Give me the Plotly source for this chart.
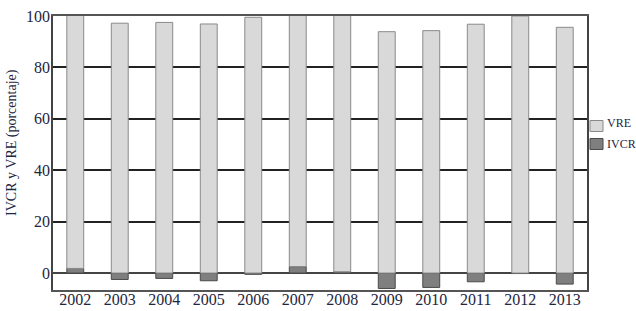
import plotly.graph_objects as go

years = ["2002", "2003", "2004", "2005", "2006", "2007", "2008", "2009", "2010", "2011", "2012", "2013"]
vre = [98.5, 97.2, 97.5, 96.9, 99.5, 97.8, 99.8, 93.9, 94.3, 96.8, 100.0, 95.6]
ivcr = [1.8, -2.5, -2.1, -3.0, -0.5, 2.5, 0.5, -6.0, -5.6, -3.4, -0.2, -4.3]
y_ticks = [0, 20, 40, 60, 80, 100]
series_names = ["VRE", "IVCR"]
series_fill = ["#d9d9d9", "#7f7f7f"]
series_edge = ["#8a8a8a", "#4a4a4a"]
y_title = "IVCR y VRE (porcentaje)"

serif = "Liberation Serif, DejaVu Serif, serif"
txt = "#1e2640"

fig = go.Figure()
fig.add_trace(go.Bar(x=years, y=ivcr, name=series_names[1], width=0.38, showlegend=False,
                     marker=dict(color=series_fill[1], line=dict(color=series_edge[1], width=1))))
fig.add_trace(go.Bar(x=years, y=vre, name=series_names[0], width=0.38, showlegend=False,
                     marker=dict(color=series_fill[0], line=dict(color=series_edge[0], width=1))))

# manual legend (swatch + label), placed just right of the plot area
leg_rows = [(0.5785, 0.6186, 0.608), (0.5128, 0.5529, 0.533)]
for i, (y0, y1, yt) in enumerate(leg_rows):
    fig.add_shape(type="rect", xref="paper", yref="paper", x0=1.0056, x1=1.030, y0=y0, y1=y1,
                  fillcolor=series_fill[i], line=dict(color=series_edge[i], width=1))
    fig.add_annotation(xref="paper", yref="paper", x=1.034, y=yt, text=series_names[i],
                       showarrow=False, xanchor="left", yanchor="middle",
                       font=dict(size=12, color=txt, family=serif))

# y-axis title
fig.add_annotation(xref="paper", yref="paper", x=-0.077, y=0.54, text=y_title, textangle=-90,
                   showarrow=False, xanchor="center", yanchor="middle",
                   font=dict(size=14, color=txt, family=serif))

fig.update_layout(
    width=636, height=311,
    margin=dict(l=53, r=49, t=16, b=21, autoexpand=False),
    barmode="relative",
    plot_bgcolor="white", paper_bgcolor="white",
    font=dict(family=serif, color=txt),
    showlegend=False,
)
fig.update_xaxes(showline=True, linecolor="#555", linewidth=1.5, mirror=True, automargin=False,
                 showgrid=False, ticks="", tickfont=dict(size=16, color=txt), ticklabelstandoff=-6)
fig.update_yaxes(range=[-6.6, 100], tickvals=y_ticks, showgrid=True, gridcolor="#222",
                 gridwidth=1.5, zeroline=True, zerolinecolor="#444", zerolinewidth=1.5,
                 showline=True, linecolor="#444", linewidth=1.5, mirror=True, automargin=False,
                 ticks="", tickfont=dict(size=16, color=txt), ticklabelstandoff=-2)

fig.write_html("out.html", config={"displayModeBar": False},
               post_script="document.body.style.margin='0';document.body.style.overflow='hidden';")
